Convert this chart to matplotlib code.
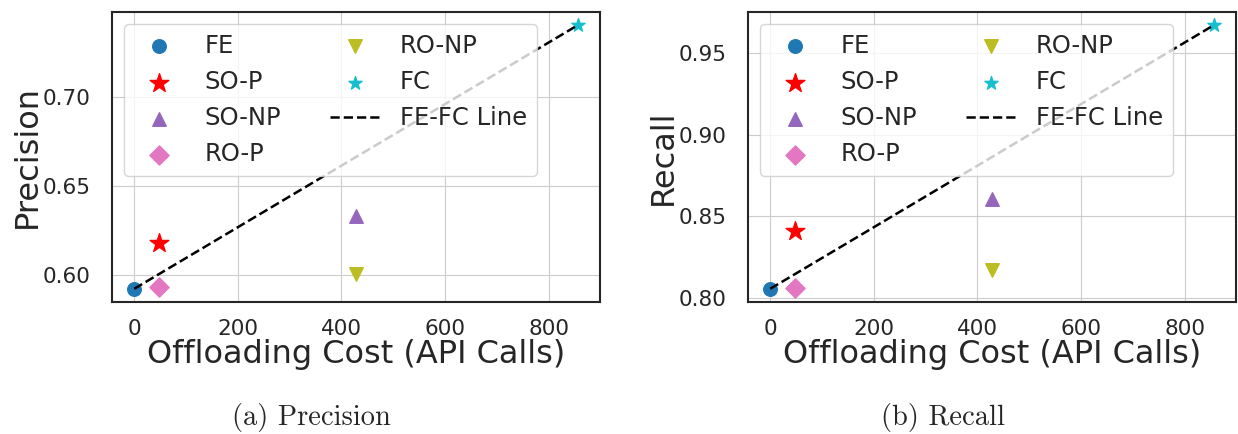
import matplotlib
matplotlib.use("Agg")
import matplotlib.pyplot as plt
import seaborn as sns

# offloading cost (API calls) per method
methods = ["FE", "SO-P", "SO-NP", "RO-P", "RO-NP", "FC"]
cost = [0, 48, 428, 48, 428, 856]
precision = [0.5925, 0.6185, 0.6332, 0.5933, 0.6007, 0.7405]
recall = [0.8055, 0.8408, 0.8603, 0.8063, 0.8170, 0.9671]

markers = ["o", "*", "^", "D", "v", "*"]
colors = ["tab:blue", "red", "tab:purple", "tab:pink", "tab:olive", "tab:cyan"]
sizes = [95, 200, 95, 95, 95, 100]

sns.set_style("whitegrid")
plt.rcParams["font.family"] = ["DejaVu Sans"]
plt.rcParams["axes.edgecolor"] = "0.15"

fig = plt.figure(figsize=(12.38, 4.34), dpi=100)
W, H = 1238, 434
ax_pr = fig.add_axes([112 / W, (H - 302) / H, 488 / W, 290 / H])
ax_rc = fig.add_axes([748 / W, (H - 302) / H, 488 / W, 290 / H])


def draw(ax, vals, ylabel, yticks):
    for m, x, y, mk, c, s in zip(methods, cost, vals, markers, colors, sizes):
        ax.scatter(x, y, marker=mk, color=c, s=s, label=m, zorder=3)
    ax.plot([cost[0], cost[-1]], [vals[0], vals[-1]], "k--", lw=1.8, label="FE-FC Line", zorder=4)
    ax.set_xticks([0, 200, 400, 600, 800])
    ax.set_yticks(yticks)
    ax.tick_params(axis="both", labelsize=15.5)
    ax.tick_params(axis="x", pad=9)
    ax.tick_params(axis="y", pad=12)
    ax.set_xlabel("Offloading Cost (API Calls)", fontsize=23, labelpad=0)
    ax.set_ylabel(ylabel, fontsize=23, labelpad=0)
    for sp in ax.spines.values():
        sp.set_linewidth(1.5)
    ax.legend(loc="upper left", ncol=2, fontsize=17.5, scatterpoints=1,
              handlelength=2.1, columnspacing=2.0)


draw(ax_pr, precision, "Precision", [0.60, 0.65, 0.70])
draw(ax_rc, recall, "Recall", [0.80, 0.85, 0.90, 0.95])

fig.text(311 / W, 1 - 418 / H, "(a) Precision", ha="center", va="center",
         fontsize=20.5, family="cmr10")
fig.text(943 / W, 1 - 418 / H, "(b) Recall", ha="center", va="center",
         fontsize=20.5, family="cmr10")

fig.savefig("out.png", dpi=100)
